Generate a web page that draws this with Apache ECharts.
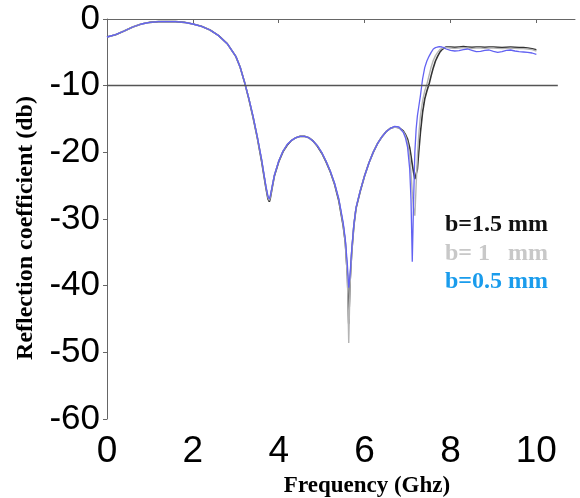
<!DOCTYPE html>
<html>
<head>
<meta charset="utf-8">
<script src="https://cdn.jsdelivr.net/npm/echarts@6/dist/echarts.min.js"></script>
<style>
  html, body { margin: 0; padding: 0; background: #fff; }
  #chart { width: 580px; height: 498px; }
</style>
</head>
<body>
<div id="chart"></div>
<script>
// Frequency samples (GHz), denser around the resonant dips
const freq = [
  0, 0.2, 0.4, 0.6, 0.8, 1.0, 1.2, 1.4, 1.6, 1.8,
  2.0, 2.2, 2.4, 2.6, 2.8, 3.0, 3.1, 3.2, 3.3, 3.4,
  3.5, 3.6, 3.65, 3.7, 3.75, 3.78, 3.8, 3.85, 3.9, 4.0,
  4.1, 4.2, 4.3, 4.4, 4.5, 4.6, 4.7, 4.8, 4.9, 5.0,
  5.1, 5.2, 5.3, 5.4, 5.5, 5.55, 5.6, 5.63, 5.66, 5.7,
  5.75, 5.8, 5.9, 6.0, 6.1, 6.2, 6.3, 6.4, 6.5, 6.6,
  6.7, 6.8, 6.9, 6.95, 7.0, 7.05, 7.08, 7.11, 7.14, 7.17,
  7.2, 7.23, 7.26, 7.3, 7.35, 7.4, 7.45, 7.5, 7.55, 7.6,
  7.65, 7.7, 7.75, 7.8, 7.85, 7.9, 8.0, 8.1, 8.2, 8.3,
  8.4, 8.5, 8.6, 8.7, 8.8, 8.9, 9.0, 9.1, 9.2, 9.3,
  9.4, 9.5, 9.6, 9.7, 9.8, 9.9, 10.0
];

// Reflection coefficient (dB), b = 1.5 mm
const s11_b15 = [
  -2.7, -2.35, -1.8, -1.2, -0.75, -0.5, -0.4, -0.38, -0.4, -0.5,
  -0.75, -1.1, -1.65, -2.5, -3.7, -5.6, -7.2, -9.4, -11.9, -14.7,
  -17.8, -21.3, -23.3, -25.3, -27.0, -27.4, -27.0, -25.2, -23.5, -21.4,
  -19.9, -18.9, -18.2, -17.8, -17.6, -17.6, -17.8, -18.3, -19.1, -20.1,
  -21.4, -22.9, -24.8, -27.3, -31.0, -33.5, -38.5, -45.7, -39.5, -35.0,
  -31.0, -28.4, -25.8, -23.5, -21.6, -20.0, -18.7, -17.7, -16.9, -16.4,
  -16.2, -16.3, -16.8, -17.3, -18.0, -19.3, -20.5, -21.8, -23.0, -24.0,
  -24.3, -22.5, -20.0, -17.0, -14.0, -12.0, -10.8, -9.8, -8.5, -7.3,
  -6.3, -5.6, -5.0, -4.6, -4.35, -4.2, -4.2, -4.25, -4.2, -4.15,
  -4.2, -4.25, -4.2, -4.2, -4.25, -4.2, -4.2, -4.25, -4.3, -4.25,
  -4.2, -4.25, -4.3, -4.3, -4.35, -4.45, -4.6
];

// Reflection coefficient (dB), b = 1 mm
const s11_b1 = [
  -2.7, -2.35, -1.8, -1.2, -0.75, -0.5, -0.4, -0.38, -0.4, -0.5,
  -0.75, -1.1, -1.65, -2.5, -3.7, -5.6, -7.2, -9.4, -11.8, -14.6,
  -17.7, -21.1, -23.1, -25.1, -26.8, -27.2, -26.8, -25.1, -23.4, -21.3,
  -19.8, -18.8, -18.2, -17.8, -17.6, -17.6, -17.8, -18.3, -19.0, -20.0,
  -21.3, -22.8, -24.7, -27.1, -30.8, -33.5, -39.0, -48.6, -40.0, -35.0,
  -30.9, -28.3, -25.7, -23.5, -21.6, -20.0, -18.7, -17.7, -16.9, -16.4,
  -16.2, -16.3, -16.9, -17.5, -18.5, -20.5, -23.0, -26.0, -28.5, -29.5,
  -25.0, -20.5, -17.5, -14.5, -12.3, -10.8, -9.8, -8.5, -7.2, -6.2,
  -5.5, -5.0, -4.6, -4.4, -4.3, -4.3, -4.35, -4.4, -4.35, -4.3,
  -4.35, -4.4, -4.35, -4.35, -4.4, -4.35, -4.35, -4.4, -4.45, -4.4,
  -4.35, -4.4, -4.45, -4.45, -4.5, -4.6, -4.8
];

// Reflection coefficient (dB), b = 0.5 mm
const s11_b05 = [
  -2.7, -2.35, -1.8, -1.2, -0.75, -0.5, -0.4, -0.38, -0.4, -0.5,
  -0.75, -1.1, -1.65, -2.5, -3.7, -5.6, -7.2, -9.4, -11.8, -14.5,
  -17.6, -21.0, -23.0, -25.0, -26.6, -27.0, -26.6, -25.0, -23.4, -21.3,
  -19.8, -18.8, -18.2, -17.8, -17.6, -17.6, -17.8, -18.3, -19.0, -20.0,
  -21.3, -22.8, -24.6, -27.0, -30.5, -33.0, -37.0, -40.3, -38.5, -34.5,
  -30.8, -28.3, -25.7, -23.5, -21.6, -20.0, -18.7, -17.7, -16.9, -16.4,
  -16.1, -16.2, -17.0, -17.8, -19.2, -22.5, -27.0, -36.4, -27.5, -20.0,
  -16.5, -14.5, -13.2, -11.5, -9.0, -7.3, -6.3, -5.6, -5.0, -4.5,
  -4.3, -4.2, -4.15, -4.2, -4.3, -4.5, -4.7, -4.8, -4.75, -4.6,
  -4.5, -4.7, -4.9, -4.85, -4.7, -4.65, -4.85, -5.0, -4.9, -4.7,
  -4.65, -4.8, -4.9, -4.95, -5.0, -5.1, -5.3
];

const xTicks = [0, 2, 4, 6, 8, 10];
const legendLabels = ['b=1.5 mm', 'b= 1   mm', 'b=0.5 mm'];
const threshold = -10;

const pairs = (vals) => freq.map((f, i) => [f, vals[i]]);

const chart = echarts.init(document.getElementById('chart'), null, { renderer: 'canvas' });

const axisColor = '#666';
const serif = '"Liberation Serif", "Times New Roman", serif';
const sans = '"Liberation Sans", Arial, sans-serif';

chart.setOption({
  animation: false,
  backgroundColor: '#fff',
  grid: { left: 107, top: 19, right: 5, bottom: 79, containLabel: false },
  xAxis: {
    type: 'value',
    min: 0,
    max: 10.9,
    axisLine: { show: true, lineStyle: { color: axisColor, width: 1 } },
    axisTick: { show: true, inside: false, length: 4, customValues: xTicks, lineStyle: { color: axisColor } },
    axisLabel: {
      customValues: xTicks,
      color: '#000',
      fontFamily: sans,
      fontSize: 37,
      margin: 14
    },
    splitLine: { show: false }
  },
  yAxis: {
    type: 'value',
    min: -60,
    max: 0,
    interval: 10,
    axisLine: { show: true, lineStyle: { color: axisColor, width: 1 } },
    axisTick: { show: true, inside: false, length: 4, lineStyle: { color: axisColor } },
    axisLabel: {
      color: '#000',
      fontFamily: sans,
      fontSize: 35,
      margin: 7
    },
    splitLine: { show: false }
  },
  series: [
    {
      name: legendLabels[0],
      type: 'line',
      data: pairs(s11_b15),
      showSymbol: false,
      lineStyle: { color: '#333', width: 1.6 },
      z: 2,
      markLine: {
        silent: true,
        symbol: 'none',
        label: { show: false },
        lineStyle: { color: '#555', width: 1.4, type: 'solid' },
        data: [[{ coord: [0, threshold] }, { coord: [10.5, threshold] }]]
      }
    },
    {
      name: legendLabels[1],
      type: 'line',
      data: pairs(s11_b1),
      showSymbol: false,
      lineStyle: { color: '#b4b4b4', width: 1.4 },
      z: 3
    },
    {
      name: legendLabels[2],
      type: 'line',
      data: pairs(s11_b05),
      showSymbol: false,
      lineStyle: { color: '#6262f2', width: 1.3 },
      z: 4
    }
  ],
  graphic: [
    {
      type: 'text',
      x: 367, y: 486,
      style: {
        text: 'Frequency (Ghz)',
        font: 'bold 23px ' + serif,
        fill: '#000',
        align: 'center',
        verticalAlign: 'middle'
      }
    },
    {
      type: 'text',
      x: 26, y: 228,
      rotation: Math.PI / 2,
      style: {
        text: 'Reflection coefficient (db)',
        font: 'bold 24px ' + serif,
        fill: '#000',
        align: 'center',
        verticalAlign: 'middle'
      }
    },
    {
      type: 'text', x: 445, y: 225,
      style: { text: legendLabels[0], font: 'bold 24px ' + serif, fill: '#111', verticalAlign: 'middle' }
    },
    {
      type: 'text', x: 445, y: 254,
      style: { text: legendLabels[1], font: 'bold 24px ' + serif, fill: '#c8c8c8', verticalAlign: 'middle' }
    },
    {
      type: 'text', x: 445, y: 282,
      style: { text: legendLabels[2], font: 'bold 24px ' + serif, fill: '#1a9cec', verticalAlign: 'middle' }
    }
  ]
});
</script>
</body>
</html>
